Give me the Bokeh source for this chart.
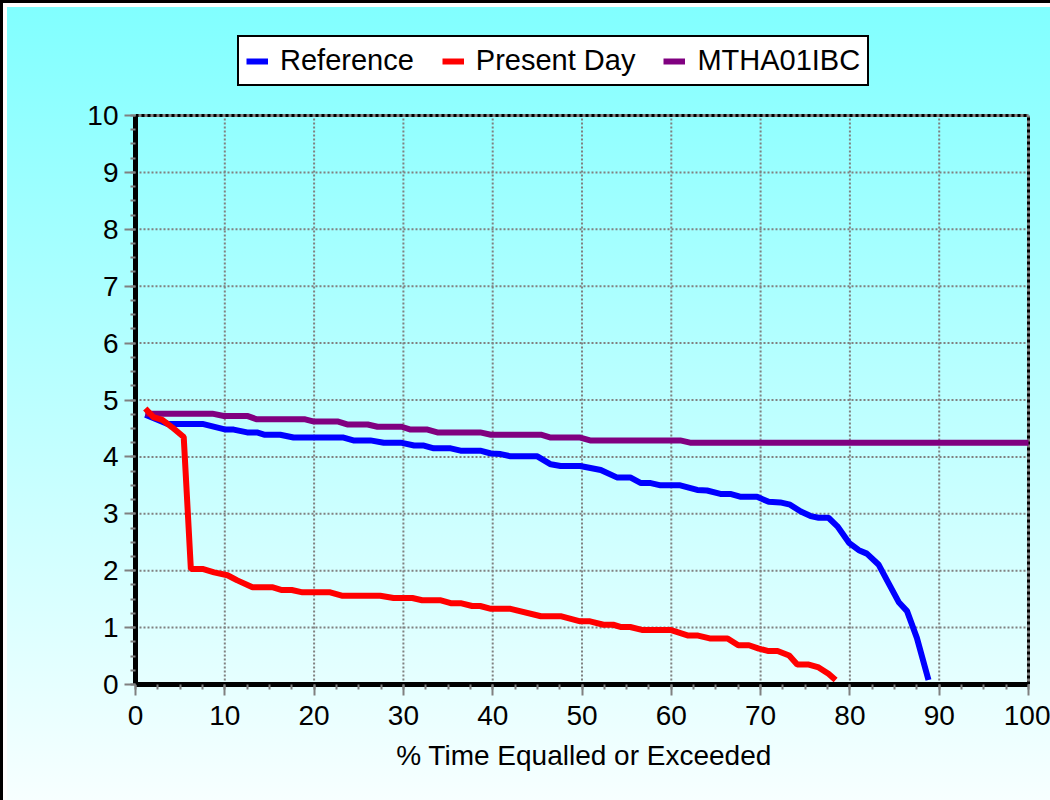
from bokeh.plotting import figure
from bokeh.models import Legend, LegendItem, Range1d, SingleIntervalTicker
from bokeh.embed import file_html
from bokeh.resources import INLINE

# ---- data ----
ref_x = [1.1, 3.6, 7.5, 10.1, 11.0, 12.5, 13.6, 14.4, 16.2, 17.7, 23.3, 24.4, 26.3, 27.8, 29.7,
         31.2, 32.3, 33.4, 35.3, 36.4, 38.6, 39.8, 40.9, 42.0, 45.0, 46.5, 47.6, 49.8, 52.1,
         53.9, 55.4, 56.6, 57.7, 58.8, 61.0, 62.9, 64.0, 65.5, 66.6, 67.7, 69.6, 70.9, 72.2,
         73.3, 74.5, 75.6, 76.5, 77.6, 78.6, 79.9, 81.0, 81.9, 83.2, 84.4, 85.5, 86.4, 87.5, 88.8]
ref_y = [4.74, 4.58, 4.58, 4.48, 4.48, 4.43, 4.43, 4.39, 4.39, 4.34, 4.34, 4.29, 4.29, 4.25, 4.25,
         4.20, 4.20, 4.15, 4.15, 4.11, 4.11, 4.06, 4.05, 4.01, 4.01, 3.87, 3.84, 3.84, 3.77,
         3.64, 3.64, 3.54, 3.54, 3.50, 3.50, 3.42, 3.41, 3.35, 3.35, 3.30, 3.30, 3.21, 3.20,
         3.16, 3.04, 2.96, 2.93, 2.93, 2.78, 2.49, 2.36, 2.30, 2.11, 1.76, 1.44, 1.29, 0.82, 0.08]

pd_x = [1.1, 2.0, 3.0, 4.1, 5.4, 6.2, 7.5, 8.8, 10.3, 11.4, 13.1, 15.3, 16.4, 17.5, 18.7, 21.8,
        23.1, 27.4, 28.9, 31.0, 32.1, 34.2, 35.3, 36.4, 37.7, 38.6, 39.8, 42.0, 45.4, 47.6,
        49.8, 50.9, 52.4, 53.5, 54.4, 55.4, 56.7, 59.9, 61.9, 63.0, 64.3, 66.3, 67.5, 68.7,
        69.8, 70.8, 71.9, 73.2, 74.1, 75.4, 76.5, 77.6, 78.4]
pd_y = [4.85, 4.70, 4.65, 4.52, 4.35, 2.03, 2.03, 1.97, 1.92, 1.83, 1.71, 1.71, 1.66, 1.66, 1.62, 1.62,
        1.56, 1.56, 1.52, 1.52, 1.48, 1.48, 1.43, 1.43, 1.38, 1.38, 1.33, 1.33, 1.20, 1.20,
        1.11, 1.11, 1.05, 1.05, 1.01, 1.01, 0.96, 0.96, 0.86, 0.86, 0.81, 0.81, 0.69, 0.69,
        0.63, 0.59, 0.59, 0.51, 0.35, 0.35, 0.30, 0.19, 0.08]

mt_x = [1.1, 8.6, 9.9, 12.5, 13.6, 19.0, 20.0, 22.7, 23.7, 26.0, 27.1, 29.8, 30.8, 32.7, 33.8,
        38.6, 39.8, 45.4, 46.5, 49.8, 50.9, 61.0, 62.1, 100.0]
mt_y = [4.76, 4.76, 4.72, 4.72, 4.66, 4.66, 4.62, 4.62, 4.57, 4.57, 4.53, 4.53, 4.48, 4.48, 4.43,
        4.43, 4.39, 4.39, 4.34, 4.34, 4.29, 4.29, 4.25, 4.25]

series_names = ["Reference", "Present Day", "MTHA01IBC"]
series_colors = ["#0000ff", "#ff0000", "#800080"]
x_title = "% Time Equalled or Exceeded"
x_ticks = [0, 10, 20, 30, 40, 50, 60, 70, 80, 90, 100]
y_ticks = [0, 1, 2, 3, 4, 5, 6, 7, 8, 9, 10]

FONT = "Liberation Sans"

# ---- layout geometry (pixels) ----
W, H = 1050, 800
AX_L, AX_R, AX_T, AX_B = 135, 1028, 115, 684   # axes box on the page
FR_T = 30                                      # frame extended upward to host the legend
FR_R = 1032                                    # frame a bit wider so the right border is not clipped
XMAX, YMAX = x_ticks[-1], y_ticks[-1]
x_end = XMAX * (FR_R - AX_L) / (AX_R - AX_L)
y_end = YMAX * (AX_B - FR_T) / (AX_B - AX_T)

p = figure(width=W, height=H, output_backend="svg", toolbar_location=None,
           x_range=Range1d(0, x_end), y_range=Range1d(0, y_end))
p.min_border_left = AX_L
p.min_border_right = W - FR_R
p.min_border_top = FR_T
p.min_border_bottom = H - AX_B
p.background_fill_color = None
p.border_fill_color = None
p.outline_line_color = None
p.styles = {
    "background": "linear-gradient(to bottom, #80ffff 0%, #f7ffff 100%)",
    "box-shadow": "inset 3px 3px 0 #000000, inset 7px 7px 0 #ffffff",
}

# axes
p.xaxis.ticker = SingleIntervalTicker(interval=10, num_minor_ticks=4)
p.yaxis.ticker = SingleIntervalTicker(interval=1, num_minor_ticks=4)
p.xaxis.bounds = (0, XMAX)
p.yaxis.bounds = (0, YMAX)
for ax in (p.xaxis[0], p.yaxis[0]):
    ax.axis_line_color = "black"
    ax.axis_line_width = 5
    ax.major_tick_line_color = "#808080"
    ax.major_tick_line_width = 2
    ax.major_tick_out = 11
    ax.major_tick_in = 0
    ax.minor_tick_line_color = "#808080"
    ax.minor_tick_line_width = 2
    ax.minor_tick_out = 5
    ax.minor_tick_in = 0
    ax.major_label_text_font = FONT
    ax.major_label_text_font_size = "28px"
    ax.major_label_text_color = "black"
p.xaxis.major_label_standoff = 10
p.yaxis.major_label_standoff = 6
p.xaxis.axis_label = x_title
p.xaxis.axis_label_text_font = FONT
p.xaxis.axis_label_text_font_size = "28px"
p.xaxis.axis_label_text_font_style = "normal"
p.xaxis.axis_label_text_color = "black"
p.xaxis.axis_label_standoff = 12

# grid (own segments, limited to the axes box)
p.xgrid.visible = False
p.ygrid.visible = False
gx = x_ticks[1:-1]
gy = y_ticks[1:-1]
p.segment(x0=gx, y0=[0] * len(gx), x1=gx, y1=[YMAX] * len(gx),
          line_color="#808080", line_width=2, line_dash="2 2")
p.segment(x0=[0] * len(gy), y0=gy, x1=[XMAX] * len(gy), y1=gy,
          line_color="#808080", line_width=2, line_dash="2 2")

# top and right border of the axes box (gray with black dashes)
p.segment(x0=[0, XMAX], y0=[YMAX, 0], x1=[XMAX, XMAX], y1=[YMAX, YMAX],
          line_color="#808080", line_width=3)
p.segment(x0=[0, XMAX], y0=[YMAX, 0], x1=[XMAX, XMAX], y1=[YMAX, YMAX],
          line_color="black", line_width=3, line_dash="3 3")

# series
r_ref = p.line(ref_x, ref_y, line_color=series_colors[0], line_width=6)
r_mt = p.line(mt_x, mt_y, line_color=series_colors[2], line_width=6)
r_pd = p.line(pd_x, pd_y, line_color=series_colors[1], line_width=6)

legend = Legend(items=[LegendItem(label=series_names[0], renderers=[r_ref]),
                       LegendItem(label=series_names[1], renderers=[r_pd]),
                       LegendItem(label=series_names[2], renderers=[r_mt])],
                orientation="horizontal", location=(237 - AX_L, AX_B - 86))
legend.label_text_font = FONT
legend.label_text_font_size = "29px"
legend.label_text_color = "black"
legend.glyph_width = 22
legend.label_standoff = 12
legend.spacing = 28
legend.padding = 7
legend.margin = 0
legend.border_line_color = "black"
legend.border_line_alpha = 1.0
legend.border_line_width = 2
legend.background_fill_color = "white"
legend.background_fill_alpha = 1.0
p.add_layout(legend, "center")

open("out.html", "w").write(file_html(p, INLINE))
